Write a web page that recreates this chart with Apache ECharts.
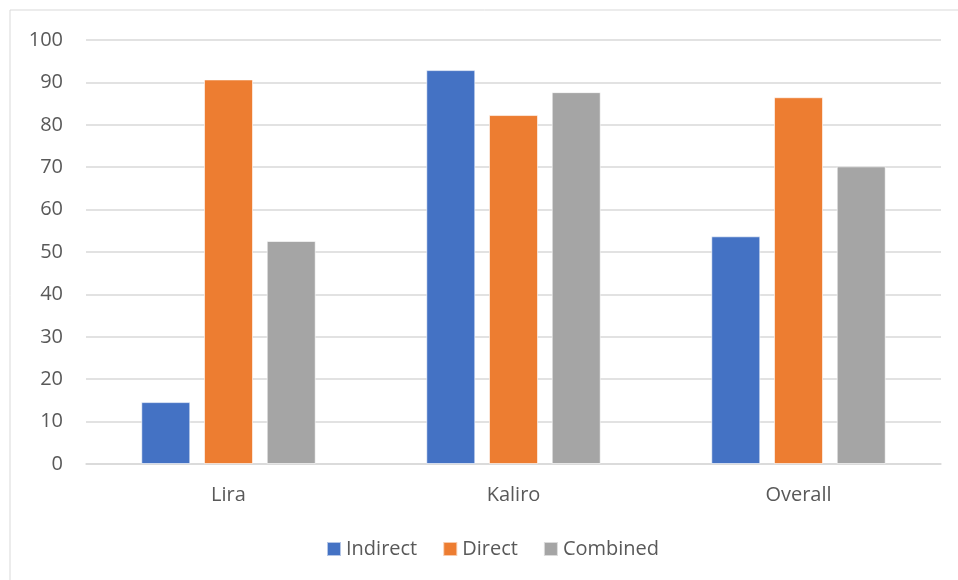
<!DOCTYPE html>
<html><head><meta charset="utf-8">
<script src="https://cdn.jsdelivr.net/npm/echarts@6/dist/echarts.min.js"></script>
<style>html,body{margin:0;padding:0;background:#fff}#c{width:958px;height:580px}</style>
</head><body><div id="c"></div>
<script>
const categories = ['Lira', 'Kaliro', 'Overall'];
const indirect = [14.6, 92.9, 53.7];
const direct = [90.7, 82.3, 86.5];
const combined = [52.6, 87.7, 70.2];
const seriesNames = ['Indirect', 'Direct', 'Combined'];
const colors = ['#4472C4', '#ED7D31', '#A5A5A5'];

const chart = echarts.init(document.getElementById('c'), null, {renderer: 'canvas'});
const font = '"Open Sans", "Noto Sans", sans-serif';
const mk = (name, data, i) => ({
  name, type: 'bar', data, barWidth: 49, barGap: '28%',
  itemStyle: {color: colors[i], borderColor: 'rgba(255,255,255,0.6)', borderWidth: 1},
  emphasis: {disabled: true}
});
chart.setOption({
  animation: false,
  graphic: [{type: 'rect', shape: {x: 10, y: 10, width: 1000, height: 1000},
    style: {fill: 'none', stroke: '#D9D9D9', lineWidth: 1}}],
  grid: {left: 86, right: 17, top: 40, bottom: 116, containLabel: false},
  legend: {
    data: seriesNames, top: 534, left: 321, itemWidth: 14, itemHeight: 14, itemGap: 25,
    icon: 'rect', textStyle: {color: '#595959', fontSize: 20, fontFamily: font}
  },
  xAxis: {
    type: 'category', data: categories,
    axisLine: {lineStyle: {color: '#D9D9D9', width: 1.5}},
    axisTick: {show: false},
    axisLabel: {color: '#595959', fontSize: 20, fontFamily: font, margin: 21}
  },
  yAxis: {
    type: 'value', min: 0, max: 100, interval: 10,
    axisLine: {show: false}, axisTick: {show: false},
    splitLine: {lineStyle: {color: '#D9D9D9', width: 1.5}},
    axisLabel: {color: '#595959', fontSize: 20, fontFamily: font, margin: 23}
  },
  series: [mk(seriesNames[0], indirect, 0), mk(seriesNames[1], direct, 1), mk(seriesNames[2], combined, 2)]
});
</script></body></html>
